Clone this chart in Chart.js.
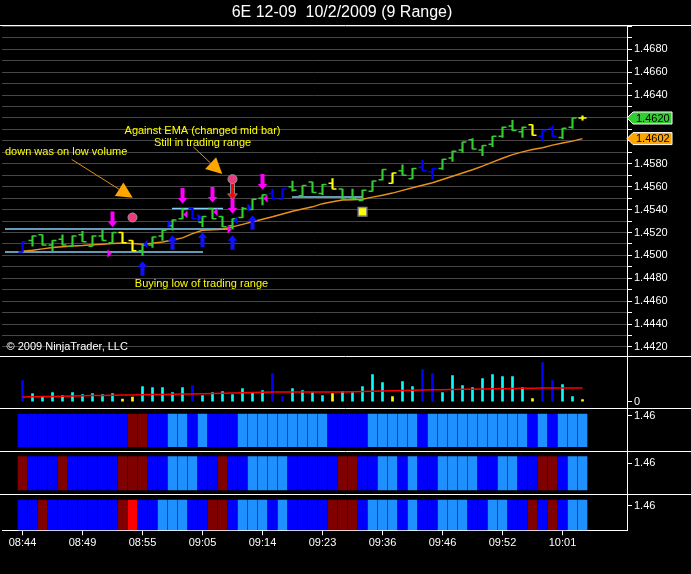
<!DOCTYPE html>
<html>
<head>
<meta charset="utf-8">
<title>6E 12-09 10/2/2009 (9 Range)</title>
<script src="https://cdn.jsdelivr.net/npm/chart.js"></script>
<style>
  html, body { margin: 0; padding: 0; background: #000; }
  canvas { display: block; }
</style>
</head>
<body>
<canvas id="myChart" width="691" height="574"></canvas>
<script>
// ---- data (bar index 0..56) ----
const timeLabels = ['08:44', '08:49', '08:55', '09:05', '09:14', '09:23', '09:36', '09:46', '09:52', '10:01'];
const timeTickBars = [0, 6, 12, 18, 24, 30, 36, 42, 48, 54];

const opens = [1.4503, 1.4513, 1.4518, 1.4509, 1.4514, 1.4508, 1.4518, 1.4508, 1.4517, 1.4511,
  1.4520, 1.4513, 1.4504, 1.4509, 1.4517, 1.4526, 1.4532, 1.4541, 1.4529, 1.4541,
  1.4534, 1.4526, 1.4533, 1.4540, 1.4550, 1.4554, 1.4549, 1.4560, 1.4552, 1.4564,
  1.4554, 1.4563, 1.4558, 1.4549, 1.4548, 1.4556, 1.4566, 1.4563, 1.4574, 1.4567,
  1.4577, 1.4573, 1.4576, 1.4585, 1.4592, 1.4601, 1.4592, 1.4597, 1.4604, 1.4613,
  1.4608, 1.4614, 1.4604, 1.4611, 1.4603, 1.4612, 1.4620];
const highs = [1.4512, 1.4517, 1.4518, 1.4513, 1.4518, 1.4517, 1.4521, 1.4517, 1.4522, 1.4520,
  1.4520, 1.4513, 1.4509, 1.4516, 1.4522, 1.4531, 1.4541, 1.4541, 1.4534, 1.4541,
  1.4534, 1.4532, 1.4542, 1.4549, 1.4553, 1.4558, 1.4558, 1.4565, 1.4561, 1.4564,
  1.4562, 1.4567, 1.4558, 1.4558, 1.4557, 1.4565, 1.4575, 1.4572, 1.4579, 1.4576,
  1.4583, 1.4576, 1.4584, 1.4591, 1.4599, 1.4602, 1.4596, 1.4604, 1.4612, 1.4618,
  1.4612, 1.4614, 1.4609, 1.4613, 1.4611, 1.4620, 1.4622];
const lows = [1.4503, 1.4508, 1.4509, 1.4504, 1.4509, 1.4508, 1.4512, 1.4508, 1.4513, 1.4511,
  1.4511, 1.4504, 1.4500, 1.4507, 1.4513, 1.4522, 1.4532, 1.4532, 1.4525, 1.4532,
  1.4525, 1.4523, 1.4533, 1.4540, 1.4544, 1.4549, 1.4549, 1.4556, 1.4552, 1.4555,
  1.4553, 1.4558, 1.4549, 1.4549, 1.4548, 1.4556, 1.4566, 1.4563, 1.4570, 1.4567,
  1.4574, 1.4567, 1.4575, 1.4582, 1.4590, 1.4593, 1.4587, 1.4595, 1.4603, 1.4609,
  1.4603, 1.4605, 1.4600, 1.4604, 1.4602, 1.4611, 1.4618];
const closes = [1.4512, 1.4517, 1.4509, 1.4513, 1.4509, 1.4517, 1.4512, 1.4517, 1.4513, 1.4520,
  1.4511, 1.4504, 1.4509, 1.4516, 1.4522, 1.4531, 1.4540, 1.4532, 1.4534, 1.4532,
  1.4525, 1.4532, 1.4541, 1.4549, 1.4553, 1.4550, 1.4558, 1.4557, 1.4561, 1.4555,
  1.4562, 1.4558, 1.4549, 1.4550, 1.4557, 1.4565, 1.4575, 1.4572, 1.4570, 1.4576,
  1.4574, 1.4576, 1.4584, 1.4591, 1.4599, 1.4593, 1.4596, 1.4604, 1.4612, 1.4609,
  1.4612, 1.4605, 1.4609, 1.4604, 1.4611, 1.4620, 1.4620];
// g = up colour, b = blue bar, y = yellow bar
const barState = ('bggggggggg' + 'yygggggbgg' + 'gggggbbggg' + 'gygggggygg' + 'bbgggggggg' + 'gybbggy').split('');

const ema = [1.45037, 1.45045, 1.45057, 1.45069, 1.45076, 1.45083, 1.45087, 1.45093, 1.45098, 1.45104,
  1.45109, 1.45104, 1.45098, 1.45107, 1.45118, 1.45135, 1.45153, 1.45190, 1.45220, 1.45225,
  1.45229, 1.45249, 1.45271, 1.45293, 1.45315, 1.45337, 1.45362, 1.45386, 1.45406, 1.45424,
  1.45452, 1.45469, 1.45483, 1.45487, 1.45491, 1.45509, 1.45526, 1.45544, 1.45568, 1.45590,
  1.45612, 1.45634, 1.45663, 1.45691, 1.45719, 1.45748, 1.45780, 1.45815, 1.45848, 1.45880,
  1.45904, 1.45924, 1.45941, 1.45963, 1.45981, 1.45998, 1.46020];

const volume = [210, 80, 45, 90, 60, 90, 70, 80, 70, 80,
  25, 45, 150, 140, 140, 90, 140, 160, 60, 90,
  100, 70, 130, 90, 110, 280, 50, 130, 110, 90,
  60, 80, 100, 90, 150, 270, 190, 50, 200, 150,
  320, 280, 90, 260, 160, 140, 230, 270, 250, 250,
  140, 30, 390, 210, 170, 50, 20];
const volumeAvg = [47, 49, 51, 53, 55, 57, 59, 61, 63, 65,
  67, 68, 70, 71, 73, 74, 76, 77, 80, 82,
  85, 87, 90, 92, 95, 97, 97, 97, 97, 97,
  97, 97, 97, 100, 102, 105, 107, 110, 112, 115,
  117, 119, 120, 122, 124, 125, 127, 129, 130, 132,
  134, 135, 137, 137, 137, 137, 137];

// B = blue, L = light blue, R = dark red, X = red
const strip1 = ('BBBBBBBBBB' + 'BRRBBLLBLB' + 'BBLLLLLLLL' + 'LBBBBLLLLL' + 'BLLLLLLLLL' + 'LBLBLLL').split('');
const strip2 = ('RBBBRBBBBB' + 'RRRBBLLLBB' + 'RBBLLLLBBB' + 'BBRRBBLLBL' + 'BBLLLLBBLL' + 'BBRRBLL').split('');
const strip3 = ('BBRBBBBBBB' + 'RXBBLLLBBR' + 'RBLLLBLBBB' + 'BRRRBLLLBL' + 'BBLLLBBLLB' + 'BRBRBLL').split('');
const stripTickLabel = '1.46';

// drawn objects on the price panel: [bar, price]
const sellArrows = [[9, 1.45249], [16, 1.45454], [19, 1.45462], [21, 1.45366], [24, 1.45576]];
const buyArrows = [[12, 1.44949], [15, 1.45177], [18, 1.45200], [21, 1.45177], [23, 1.45351]];
const exitArrows = [[21, 1.45489]];
const dots = [[11, 1.45331], [21, 1.45666]];
const squares = [[34, 1.45382]];
// [bar, price, side of bar, kind]
const flags = [[9, 1.45017, 'L', 'sell'], [12, 1.45100, 'R', 'buy'], [15, 1.45277, 'L', 'buy'],
  [16, 1.45358, 'R', 'sell'], [18, 1.45330, 'L', 'buy'], [19, 1.45380, 'R', 'sell'],
  [21, 1.45226, 'L', 'sell'], [21, 1.45308, 'R', 'buy'], [23, 1.45417, 'L', 'buy'],
  [24, 1.45496, 'R', 'sell']];
// [from bar, to bar, price]
const rangeLines = [[-1.75, 20.55, 1.4523], [-1.75, 18.05, 1.4503], [14.95, 20.05, 1.4541], [26.95, 33.95, 1.4551]];
const notes = [['down was on low volume', -1.75, 1.45902, 'left'],
  ['Against EMA (changed mid bar)', 18, 1.46088, 'center'],
  ['Still in trading range', 18, 1.45983, 'center'],
  ['Buying low of trading range', 17.9, 1.44754, 'center']];
const pointers = [[[4.92, 1.45838], [11.02, 1.45503]], [[17.08, 1.45948], [19.98, 1.45710]]];

// ---- look ----
const fontFamily = "'Liberation Sans', Arial, sans-serif";
Chart.defaults.font.family = fontFamily;
Chart.defaults.font.size = 11;
Chart.defaults.color = '#ffffff';

const priceColors = { g: '#32cd32', b: '#0000ff', y: '#ffff00' };
const volumeColors = { g: '#00ffff', b: '#0000ff', y: '#ffff00' };
const stripColors = { B: '#0000ff', L: '#1e90ff', R: '#800000', X: '#ff0000' };
const kindColors = { sell: '#ff00ff', buy: '#1010ff' };

function drawArrow(c, px, tipY, dir, len, fill, outline) {
  // dir 1 points down, -1 points up
  const shaft = 4, head = 9.5, headH = 5.5;
  const baseY = tipY - dir * len, neckY = tipY - dir * headH;
  c.beginPath();
  c.moveTo(px - shaft / 2, baseY);
  c.lineTo(px + shaft / 2, baseY);
  c.lineTo(px + shaft / 2, neckY);
  c.lineTo(px + head / 2, neckY);
  c.lineTo(px, tipY);
  c.lineTo(px - head / 2, neckY);
  c.lineTo(px - shaft / 2, neckY);
  c.closePath();
  c.fillStyle = fill;
  c.fill();
  if (outline) { c.strokeStyle = outline; c.lineWidth = 1; c.stroke(); }
}

function drawMarker(c, left, y, text, fill) {
  c.beginPath();
  c.moveTo(left, y);
  c.lineTo(left + 6, y - 6);
  c.lineTo(left + 45, y - 6);
  c.lineTo(left + 45, y + 6);
  c.lineTo(left + 6, y + 6);
  c.closePath();
  c.fillStyle = fill;
  c.fill();
  c.strokeStyle = '#ffffff';
  c.lineWidth = 1;
  c.stroke();
  c.fillStyle = '#000000';
  c.textAlign = 'left';
  c.textBaseline = 'middle';
  c.font = '11px ' + fontFamily;
  c.fillText(text, left + 9, y + 0.5);
}

const ninjaPlugin = {
  id: 'ninja',
  beforeDraw(chart) {
    const c = chart.ctx;
    c.save();
    c.fillStyle = '#000000';
    c.fillRect(0, 0, chart.width, chart.height);
    c.restore();
  },
  beforeDatasetsDraw(chart) {
    const { ctx: c, scales: { x, yPrice } } = chart;
    c.save();
    c.strokeStyle = '#87cefa';
    c.lineWidth = 1.5;
    rangeLines.forEach(([a, b, p]) => {
      const yy = yPrice.getPixelForValue(p);
      c.beginPath();
      c.moveTo(x.getPixelForValue(a), yy);
      c.lineTo(x.getPixelForValue(b), yy);
      c.stroke();
    });
    c.restore();
  },
  afterDatasetsDraw(chart) {
    const { ctx: c, scales: { x, yPrice } } = chart;
    c.save();
    // open / close ticks of the range bars
    c.lineWidth = 1.5;
    opens.forEach((o, i) => {
      const px = x.getPixelForValue(i);
      const yo = yPrice.getPixelForValue(o), yc = yPrice.getPixelForValue(closes[i]);
      c.strokeStyle = priceColors[barState[i]];
      c.beginPath();
      c.moveTo(px - 4, yo); c.lineTo(px, yo);
      c.moveTo(px, yc); c.lineTo(px + 4, yc);
      c.stroke();
    });
    // signal arrows
    sellArrows.forEach(([i, p]) => drawArrow(c, x.getPixelForValue(i), yPrice.getPixelForValue(p), 1, 15.5, kindColors.sell));
    buyArrows.forEach(([i, p]) => drawArrow(c, x.getPixelForValue(i), yPrice.getPixelForValue(p), -1, 14.5, kindColors.buy));
    exitArrows.forEach(([i, p]) => drawArrow(c, x.getPixelForValue(i), yPrice.getPixelForValue(p), 1, 16, '#ff0000', '#8a8a8a'));
    // small flags beside the bars
    flags.forEach(([i, p, side, kind]) => {
      const px = x.getPixelForValue(i), py = yPrice.getPixelForValue(p);
      const tip = side === 'R' ? px + 0.8 : px - 0.8;
      const base = side === 'R' ? px + 5 : px - 5;
      c.beginPath();
      c.moveTo(tip, py);
      c.lineTo(base, py - 4.2);
      c.lineTo(base, py + 4.2);
      c.closePath();
      c.fillStyle = kindColors[kind];
      c.fill();
    });
    // orange pointers
    pointers.forEach(([from, to]) => {
      const x0 = x.getPixelForValue(from[0]), y0 = yPrice.getPixelForValue(from[1]);
      const x1 = x.getPixelForValue(to[0]), y1 = yPrice.getPixelForValue(to[1]);
      const len = Math.hypot(x1 - x0, y1 - y0), ux = (x1 - x0) / len, uy = (y1 - y0) / len;
      const bx = x1 - ux * 16, by = y1 - uy * 16;
      c.strokeStyle = '#e0901e';
      c.lineWidth = 1;
      c.beginPath(); c.moveTo(x0, y0); c.lineTo(bx, by); c.stroke();
      c.beginPath();
      c.moveTo(x1, y1);
      c.lineTo(bx - uy * 8, by + ux * 8);
      c.lineTo(bx + uy * 8, by - ux * 8);
      c.closePath();
      c.fillStyle = '#ffa500';
      c.fill();
    });
    // notes
    c.font = '11px ' + fontFamily;
    c.fillStyle = '#ffff00';
    c.textBaseline = 'middle';
    notes.forEach(([t, i, p, align]) => {
      c.textAlign = align;
      c.fillText(t, x.getPixelForValue(i), yPrice.getPixelForValue(p));
    });
    c.fillStyle = '#ffffff';
    c.textAlign = 'left';
    c.fillText('\u00a9 2009 NinjaTrader, LLC', chart.chartArea.left + 4.5, yPrice.bottom - 9);
    c.restore();
  },
  afterDraw(chart) {
    const { ctx: c, scales } = chart;
    c.save();
    // panel separators
    c.strokeStyle = '#ffffff';
    c.lineWidth = 1;
    ['yPrice', 'yVol', 'yS1', 'yS2', 'yS3'].forEach(id => {
      const yy = Math.round(scales[id].top) + 0.5;
      c.beginPath(); c.moveTo(0, yy); c.lineTo(chart.width, yy); c.stroke();
    });
    // last price and EMA markers
    const axisLeft = scales.yPrice.left;
    drawMarker(c, axisLeft, scales.yPrice.getPixelForValue(closes[closes.length - 1]), closes[closes.length - 1].toFixed(4), '#33cc33');
    drawMarker(c, axisLeft, scales.yPrice.getPixelForValue(ema[ema.length - 1]), ema[ema.length - 1].toFixed(4), '#ffa500');
    // title
    c.fillStyle = '#ffffff';
    c.font = '16px ' + fontFamily;
    c.textAlign = 'center';
    c.textBaseline = 'middle';
    c.fillText('6E 12-09  10/2/2009 (9 Range)', 342, 13);
    c.restore();
  }
};

const sideAxis = (weight, min, max, tickValues, label) => ({
  axis: 'y', type: 'linear', position: 'right', stack: 'panels', stackWeight: weight,
  min: min, max: max, beginAtZero: false,
  afterFit: s => { s.width = 64; s.paddingTop = 0; s.paddingBottom = 0; },
  afterBuildTicks: s => { s.ticks = tickValues.map(v => ({ value: v })); },
  border: { color: '#ffffff', width: 1 },
  grid: { drawOnChartArea: false, tickLength: 5, color: '#ffffff' },
  ticks: { padding: 2, color: '#ffffff', autoSkip: false, callback: () => label }
});

const stripSet = (cells, axisId) => ({
  label: axisId,
  data: cells.map((s, i) => ({ x: i, y: [0, 1] })),
  backgroundColor: cells.map(s => stripColors[s]),
  barThickness: 9,
  grouped: false,
  xAxisID: 'x',
  yAxisID: axisId
});

const ctx = document.getElementById('myChart').getContext('2d');
const myChart = new Chart(ctx, {
  type: 'bar',
  data: {
    datasets: [
      {
        type: 'scatter', label: 'dots',
        data: dots.map(([i, p]) => ({ x: i, y: p })),
        pointStyle: 'circle', pointRadius: 4.5,
        backgroundColor: '#f0387f', borderColor: '#9a9a9a', borderWidth: 1,
        xAxisID: 'x', yAxisID: 'yPrice'
      },
      {
        type: 'scatter', label: 'squares',
        data: squares.map(([i, p]) => ({ x: i, y: p })),
        pointStyle: 'rect', pointRadius: 6,
        backgroundColor: '#ffff00', borderColor: '#8c8c8c', borderWidth: 1.5,
        xAxisID: 'x', yAxisID: 'yPrice'
      },
      {
        label: 'Range bars',
        data: highs.map((h, i) => ({ x: i, y: [lows[i], h] })),
        backgroundColor: barState.map(s => priceColors[s]),
        barThickness: 1.5, grouped: false,
        xAxisID: 'x', yAxisID: 'yPrice'
      },
      {
        type: 'line', label: 'EMA',
        data: ema.map((v, i) => ({ x: i, y: v })),
        borderColor: '#e8911c', borderWidth: 1.5, pointRadius: 0,
        xAxisID: 'x', yAxisID: 'yPrice'
      },
      {
        type: 'line', label: 'Volume average',
        data: volumeAvg.map((v, i) => ({ x: i, y: v })),
        borderColor: '#ff0000', borderWidth: 1.5, pointRadius: 0,
        xAxisID: 'x', yAxisID: 'yVol'
      },
      {
        label: 'Volume',
        data: volume.map((v, i) => ({ x: i, y: v })),
        backgroundColor: barState.map(s => volumeColors[s]),
        barThickness: 2, grouped: false,
        xAxisID: 'x', yAxisID: 'yVol'
      },
      stripSet(strip1, 'yS1'),
      stripSet(strip2, 'yS2'),
      stripSet(strip3, 'yS3')
    ]
  },
  options: {
    responsive: false,
    animation: false,
    events: [],
    layout: { autoPadding: false, padding: { top: 25, left: 2, right: 0, bottom: 0 } },
    plugins: {
      legend: { display: false },
      tooltip: { enabled: false },
      title: { display: false }
    },
    scales: {
      x: {
        type: 'linear', position: 'bottom', min: -2.05, max: 60.45,
        offset: false,
        afterFit: s => { s.height = 43.7; s.paddingLeft = 0; s.paddingRight = 0; },
        afterBuildTicks: s => { s.ticks = timeTickBars.map(v => ({ value: v })); },
        border: { color: '#ffffff', width: 1 },
        grid: { drawOnChartArea: false, offset: false, tickLength: 5, color: '#ffffff' },
        ticks: {
          padding: 1, autoSkip: false, maxRotation: 0, color: '#ffffff',
          callback: v => timeLabels[timeTickBars.indexOf(v)]
        }
      },
      yPrice: {
        axis: 'y', type: 'linear', position: 'right', stack: 'panels', stackWeight: 330.7,
        min: 1.44124, max: 1.470122, beginAtZero: false,
        afterFit: s => { s.width = 64; s.paddingTop = 0; s.paddingBottom = 0; },
        border: { color: '#ffffff', width: 1 },
        grid: { color: '#474747', tickColor: '#ffffff', tickLength: 5, lineWidth: 1 },
        ticks: {
          stepSize: 0.001, includeBounds: false, autoSkip: false, padding: 2, color: '#ffffff',
          callback: v => (Math.round(v * 10000) % 20 === 0 && v < 1.4695) ? v.toFixed(4) : ''
        }
      },
      yVol: sideAxis(52.6, -66, 460, [0], '0'),
      yS1: sideAxis(42.7, -0.1315, 1.174, [0.94], stripTickLabel),
      yS2: sideAxis(43.3, -0.129, 1.171, [0.8], stripTickLabel),
      yS3: sideAxis(36, 0, 1.188, [0.81], stripTickLabel)
    }
  },
  plugins: [ninjaPlugin]
});
</script>
</body>
</html>
